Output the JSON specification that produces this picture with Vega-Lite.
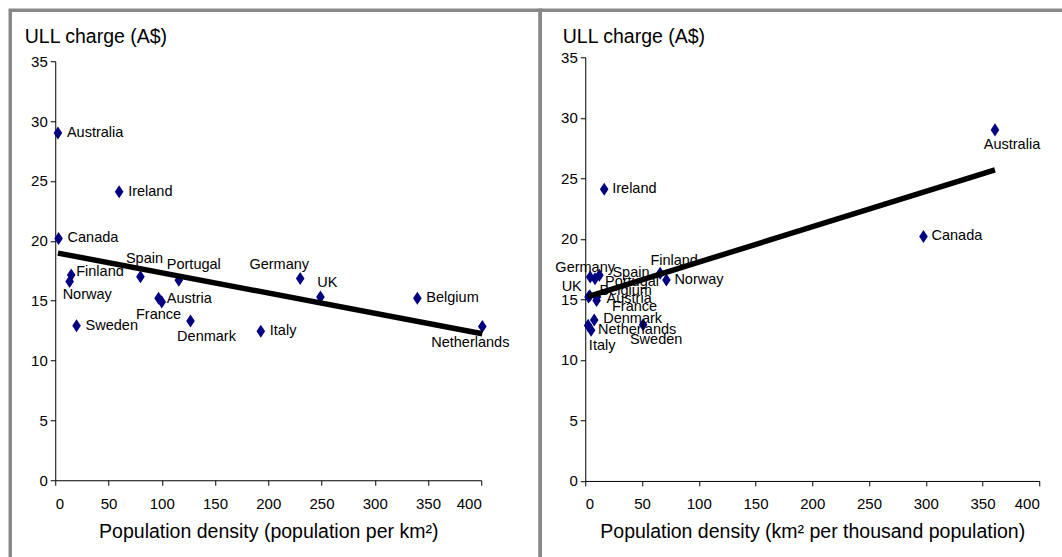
{
  "$schema": "https://vega.github.io/schema/vega-lite/v6.json",
  "background": "white",
  "padding": {"left": 8.25, "top": 8.25, "right": 0, "bottom": 0},
  "spacing": 0,
  "bounds": "flush",
  "datasets": {
    "ull": [
      {"country": "Australia", "density": 2.5, "km2k": 361, "charge": 29.0},
      {"country": "Canada", "density": 3.1, "km2k": 298, "charge": 20.2},
      {"country": "Ireland", "density": 60, "km2k": 16.7, "charge": 24.1},
      {"country": "Finland", "density": 15, "km2k": 66, "charge": 17.15},
      {"country": "Norway", "density": 13.5, "km2k": 71.5, "charge": 16.6},
      {"country": "Sweden", "density": 20, "km2k": 51, "charge": 12.9},
      {"country": "Spain", "density": 80, "km2k": 12.5, "charge": 17.0},
      {"country": "Portugal", "density": 116, "km2k": 8.6, "charge": 16.7},
      {"country": "Austria", "density": 100, "km2k": 10, "charge": 14.9},
      {"country": "France", "density": 97, "km2k": 10.3, "charge": 15.2},
      {"country": "Denmark", "density": 127, "km2k": 7.9, "charge": 13.3},
      {"country": "Italy", "density": 193, "km2k": 5.2, "charge": 12.45},
      {"country": "Germany", "density": 230, "km2k": 4.35, "charge": 16.85},
      {"country": "UK", "density": 249, "km2k": 4.0, "charge": 15.3},
      {"country": "Belgium", "density": 340, "km2k": 2.9, "charge": 15.2},
      {"country": "Netherlands", "density": 401, "km2k": 2.5, "charge": 12.85}
    ]
  },
  "hconcat": [
    {
      "width": 530,
      "height": 555,
      "data": {"name": "ull"},
      "encoding": {
        "x": {
          "field": "density", "type": "quantitative",
          "scale": {"domain": [0, 400], "range": [45, 471], "nice": false, "zero": false},
          "axis": {
            "values": [0, 50, 100, 150, 200, 250, 300, 350, 400],
            "offset": -85,
            "title": "Population density (population per km²)",
            "titleY": 57, "titleBaseline": "alphabetic",
            "labelPadding": 11
          }
        },
        "y": {
          "field": "charge", "type": "quantitative",
          "scale": {"domain": [0, 35], "range": [470, 51], "nice": false},
          "axis": {
            "values": [0, 5, 10, 15, 20, 25, 30, 35],
            "offset": -45,
            "title": "ULL charge (A$)",
            "titleAngle": 0, "titleAlign": "left", "titleBaseline": "alphabetic",
            "titleX": -31, "titleY": 32,
            "labelPadding": 3
          }
        }
      },
      "layer": [
        {"mark": {"type": "point", "shape": "M0,-1L0.66,0L0,1L-0.66,0Z", "filled": true, "size": 170, "color": "#000080", "opacity": 1}},
        {
          "encoding": {"text": {"field": "country"}},
          "layer": [
            {"transform": [{"filter": {"field": "country", "oneOf": ["Australia", "Ireland", "Canada", "Italy", "Belgium", "Sweden"]}}], "mark": {"type": "text", "align": "left", "dx": 9, "dy": 0}},
            {"transform": [{"filter": {"field": "country", "oneOf": ["Finland", "Austria"]}}], "mark": {"type": "text", "align": "left", "dx": 5, "dy": -3}},
            {"transform": [{"filter": {"field": "country", "equal": "Norway"}}], "mark": {"type": "text", "align": "left", "dx": -7, "dy": 13}},
            {"transform": [{"filter": {"field": "country", "equal": "Spain"}}], "mark": {"type": "text", "align": "center", "dx": 4, "dy": -18}},
            {"transform": [{"filter": {"field": "country", "equal": "Portugal"}}], "mark": {"type": "text", "align": "center", "dx": 15, "dy": -15}},
            {"transform": [{"filter": {"field": "country", "equal": "France"}}], "mark": {"type": "text", "align": "center", "dx": 0, "dy": 17}},
            {"transform": [{"filter": {"field": "country", "equal": "Denmark"}}], "mark": {"type": "text", "align": "center", "dx": 16, "dy": 16}},
            {"transform": [{"filter": {"field": "country", "equal": "Germany"}}], "mark": {"type": "text", "align": "center", "dx": -21, "dy": -14}},
            {"transform": [{"filter": {"field": "country", "equal": "UK"}}], "mark": {"type": "text", "align": "center", "dx": 7, "dy": -14}},
            {"transform": [{"filter": {"field": "country", "equal": "Netherlands"}}], "mark": {"type": "text", "align": "center", "dx": -12, "dy": 17}}
          ]
        },
        {"transform": [{"regression": "charge", "on": "density"}], "mark": {"type": "line", "color": "black", "strokeWidth": 5.5}},
        {
          "data": {"values": [{}]},
          "mark": {"type": "text", "text": "R² = 0.22", "fontWeight": "bold", "align": "center"},
          "encoding": {"x": {"datum": 307}, "y": {"datum": 11.95}}
        }
      ]
    },
    {
      "width": 530,
      "height": 555,
      "data": {"name": "ull"},
      "encoding": {
        "x": {
          "field": "km2k", "type": "quantitative",
          "scale": {"domain": [0, 400], "range": [45, 499], "nice": false, "zero": false},
          "axis": {
            "values": [0, 50, 100, 150, 200, 250, 300, 350, 400],
            "offset": -84.3,
            "title": "Population density (km² per thousand population)",
            "titleY": 57, "titleBaseline": "alphabetic",
            "labelPadding": 11
          }
        },
        "y": {
          "field": "charge", "type": "quantitative",
          "scale": {"domain": [0, 35], "range": [470.7, 47], "nice": false},
          "axis": {
            "values": [0, 5, 10, 15, 20, 25, 30, 35],
            "offset": -45,
            "title": "ULL charge (A$)",
            "titleAngle": 0, "titleAlign": "left", "titleBaseline": "alphabetic",
            "titleX": -23, "titleY": 32,
            "labelPadding": 3
          }
        }
      },
      "layer": [
        {"mark": {"type": "point", "shape": "M0,-1L0.66,0L0,1L-0.66,0Z", "filled": true, "size": 170, "color": "#000080", "opacity": 1}},
        {
          "encoding": {"text": {"field": "country"}},
          "layer": [
            {"transform": [{"filter": {"field": "country", "oneOf": ["Ireland", "Canada", "Norway"]}}], "mark": {"type": "text", "align": "left", "dx": 8, "dy": 0}},
            {"transform": [{"filter": {"field": "country", "equal": "Australia"}}], "mark": {"type": "text", "align": "center", "dx": 17, "dy": 15}},
            {"transform": [{"filter": {"field": "country", "equal": "Germany"}}], "mark": {"type": "text", "align": "center", "dx": -5, "dy": -9}},
            {"transform": [{"filter": {"field": "country", "equal": "Spain"}}], "mark": {"type": "text", "align": "left", "dx": 13, "dy": -2}},
            {"transform": [{"filter": {"field": "country", "equal": "Portugal"}}], "mark": {"type": "text", "align": "left", "dx": 10, "dy": 3}},
            {"transform": [{"filter": {"field": "country", "equal": "UK"}}], "mark": {"type": "text", "align": "right", "dx": -8, "dy": -9}},
            {"transform": [{"filter": {"field": "country", "equal": "Belgium"}}], "mark": {"type": "text", "align": "left", "dx": 11, "dy": -6}},
            {"transform": [{"filter": {"field": "country", "equal": "Austria"}}], "mark": {"type": "text", "align": "left", "dx": 10, "dy": -2}},
            {"transform": [{"filter": {"field": "country", "equal": "France"}}], "mark": {"type": "text", "align": "left", "dx": 15, "dy": 10}},
            {"transform": [{"filter": {"field": "country", "equal": "Denmark"}}], "mark": {"type": "text", "align": "left", "dx": 9, "dy": -1}},
            {"transform": [{"filter": {"field": "country", "equal": "Netherlands"}}], "mark": {"type": "text", "align": "left", "dx": 10, "dy": 5}},
            {"transform": [{"filter": {"field": "country", "equal": "Italy"}}], "mark": {"type": "text", "align": "center", "dx": 11, "dy": 16}},
            {"transform": [{"filter": {"field": "country", "equal": "Sweden"}}], "mark": {"type": "text", "align": "center", "dx": 13, "dy": 15}},
            {"transform": [{"filter": {"field": "country", "equal": "Finland"}}], "mark": {"type": "text", "align": "center", "dx": 14, "dy": -12}}
          ]
        },
        {"transform": [{"regression": "charge", "on": "km2k"}], "mark": {"type": "line", "color": "black", "strokeWidth": 5.5}},
        {
          "data": {"values": [{}]},
          "mark": {"type": "text", "text": "R² = 0.53", "fontWeight": "bold", "align": "center"},
          "encoding": {"x": {"datum": 277.5}, "y": {"datum": 25.0}}
        }
      ]
    }
  ],
  "config": {
    "view": {"stroke": "#888888", "strokeWidth": 3.5},
    "axis": {
      "grid": false,
      "domainColor": "black", "domainWidth": 1,
      "tickColor": "black", "tickWidth": 1, "tickSize": 5,
      "labelColor": "black", "labelFont": "Liberation Sans", "labelFontSize": 15,
      "titleColor": "black", "titleFont": "Liberation Sans", "titleFontSize": 19.5, "titleFontWeight": "normal",
      "labelOverlap": false
    },
    "text": {"font": "Liberation Sans", "fontSize": 14.5, "color": "black", "baseline": "middle"}
  }
}
